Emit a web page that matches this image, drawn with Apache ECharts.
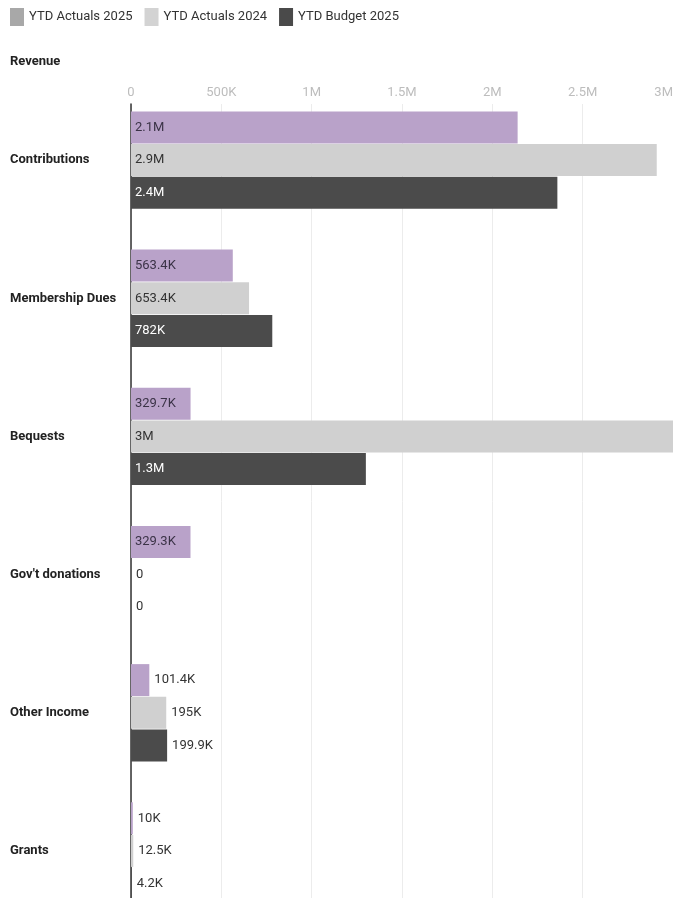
<!DOCTYPE html>
<html>
<head>
<meta charset="utf-8">
<title>Revenue</title>
<script src="https://cdn.jsdelivr.net/npm/echarts@6/dist/echarts.min.js"></script>
<style>
  html, body { margin: 0; padding: 0; background: #ffffff; }
  #chart { width: 673px; height: 898px; }
</style>
</head>
<body>
<div id="chart"></div>
<script>
// Revenue lines, top to bottom
const categories = ['Contributions', 'Membership Dues', 'Bequests', "Gov't donations", 'Other Income', 'Grants'];

// Year-to-date amounts per line
const actuals2025 = [2140000, 563400, 329700, 329300, 101400, 10000];
const actuals2024 = [2910000, 653400, 3000000, 0, 195000, 12500];
const budget2025  = [2360000, 782000, 1300000, 0, 199900, 4200];

const seriesNames = ['YTD Actuals 2025', 'YTD Actuals 2024', 'YTD Budget 2025'];

// Value axis ticks
const axisMax = 3000000;
const axisStep = 500000;

const FONT = 'Roboto, "Noto Sans", sans-serif';

function shortNumber(v) {
  if (v === 0) return '0';
  if (v >= 1e6) return (v / 1e6).toFixed(1).replace(/\.0$/, '') + 'M';
  if (v >= 1e3) return (v / 1e3).toFixed(1).replace(/\.0$/, '') + 'K';
  return String(v);
}

const barColors   = ['#b9a2c9', '#d0d0d0', '#4b4b4b'];
const legendIcons = ['#a8a8a8', '#d3d3d3', '#4a4a4a'];
const insideText  = ['#3b3347', '#333333', '#ffffff'];

// Labels sit inside the bar when it is long enough, otherwise just past its end
function buildData(values, idx) {
  return values.map(v => {
    const inside = v >= 250000;
    return {
      value: v,
      label: {
        position: inside ? 'insideLeft' : 'right',
        distance: inside ? 4 : 5,
        color: inside ? insideText[idx] : '#333333'
      }
    };
  });
}

const seriesValues = [actuals2025, actuals2024, budget2025];

const chart = echarts.init(document.getElementById('chart'), null, { renderer: 'canvas' });

// The plot runs past the bottom edge of the view, so grids are not fitted to the container
chart.setOption({
  backgroundColor: '#ffffff',
  animation: false,
  title: {
    text: 'Revenue',
    left: 10,
    top: 55,
    padding: 0,
    textStyle: { fontFamily: FONT, fontSize: 13, fontWeight: 'bold', color: '#222222' }
  },
  legend: {
    left: 10,
    top: 8,
    padding: 0,
    itemWidth: 14,
    itemHeight: 18,
    itemGap: 12,
    icon: 'rect',
    textStyle: { fontFamily: FONT, fontSize: 13, color: '#333333' },
    data: seriesNames.map((n, i) => ({ name: n, itemStyle: { color: legendIcons[i] } }))
  },
  grid: [
    // plot area for the bars
    { left: 131, width: 542, top: 91, height: 829, containLabel: false, outerBoundsMode: 'none' },
    // frame for the baseline and vertical guides, starting under the tick labels
    { left: 131, width: 542, top: 104, height: 816, containLabel: false, outerBoundsMode: 'none' }
  ],
  xAxis: [
    {
      gridIndex: 0,
      type: 'value',
      position: 'top',
      min: 0,
      max: axisMax,
      interval: axisStep,
      axisLine: { show: false },
      axisTick: { show: false },
      splitLine: { show: false },
      axisLabel: {
        margin: -8,
        fontFamily: FONT,
        fontSize: 13,
        color: '#bdbdbd',
        alignMaxLabel: 'right',
        showMaxLabel: true,
        formatter: v => shortNumber(v)
      }
    },
    {
      gridIndex: 1,
      type: 'value',
      position: 'top',
      min: 0,
      max: axisMax,
      interval: axisStep,
      axisLine: { show: false },
      axisTick: { show: false },
      axisLabel: { show: false },
      splitLine: { show: true, lineStyle: { color: '#ececec', width: 1 } }
    }
  ],
  yAxis: [
    {
      gridIndex: 0,
      type: 'category',
      inverse: true,
      data: categories,
      axisLine: { show: false },
      axisTick: { show: false },
      splitLine: { show: false },
      axisLabel: {
        align: 'left',
        margin: 121,
        fontFamily: FONT,
        fontSize: 13,
        fontWeight: 'bold',
        color: '#222222'
      }
    },
    {
      gridIndex: 1,
      type: 'value',
      min: 0,
      max: 1,
      axisLine: { show: true, lineStyle: { color: '#333333', width: 1.5 } },
      axisTick: { show: false },
      axisLabel: { show: false },
      splitLine: { show: false }
    }
  ],
  series: seriesNames.map((name, i) => ({
    name: name,
    type: 'bar',
    xAxisIndex: 0,
    yAxisIndex: 0,
    barWidth: 32,
    barGap: '2%',
    z: 3,
    itemStyle: { color: barColors[i] },
    label: {
      show: true,
      fontFamily: FONT,
      fontSize: 13,
      formatter: p => shortNumber(p.value)
    },
    data: buildData(seriesValues[i], i)
  }))
});
</script>
</body>
</html>
